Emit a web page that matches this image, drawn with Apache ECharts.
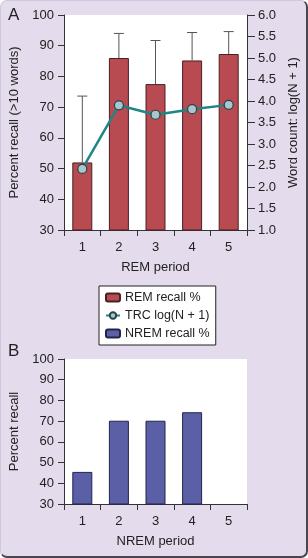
<!DOCTYPE html>
<html><head><meta charset="utf-8">
<script src="https://cdn.jsdelivr.net/npm/echarts@6/dist/echarts.min.js"></script>
<style>
html,body{margin:0;padding:0;background:#fff;}
#frame{position:absolute;left:0;top:0;width:305px;height:555px;background:#e4dcec;border-radius:7px;border-right:2px solid #4a4550;border-bottom:2px solid #4a4550;border-left:1px solid #cfc8d8;border-top:1px solid #cfc8d8;}
#c{position:absolute;left:0;top:0;width:308px;height:558px;}
</style></head>
<body><div id="frame"></div><div id="c"></div>
<script>
const periods = ['1','2','3','4','5'];
const remRecall = [52, 86, 77.5, 85.2, 87.3];
const remErrTop = [73.6, 94, 91.7, 94.3, 94.6];
const trcLog = [2.42, 3.9, 3.68, 3.81, 3.91];
const nremRecall = [45.5, 70.2, 70.2, 74.3, null];
const leftTicks = {min:30, max:100, interval:10};
const rightTicks = {min:1, max:6, interval:0.5};

const font = 'Liberation Sans, Arial, sans-serif';
const txt = '#222';
const chart = echarts.init(document.getElementById('c'), null, {renderer:'canvas'});
const axisLine = {show:true, lineStyle:{color:'#333', width:1}};
const axisTick = {show:true, length:6, lineStyle:{color:'#333'}};
const lbl = {color:txt, fontSize:13, fontFamily:font};

chart.setOption({
  animation:false,
  graphic:[
    {type:'text', left:8, top:7, style:{text:'A', fontSize:17, fontFamily:font, fill:txt}},
    {type:'text', left:8, top:343, style:{text:'B', fontSize:17, fontFamily:font, fill:txt}}
  ],
  legend:{
    data:['REM recall %','TRC log(N + 1)','NREM recall %'],
    orient:'vertical', left:99, top:286,
    backgroundColor:'#fff', borderColor:'#222', borderWidth:1,
    padding:[5,6,5,6], itemGap:5, itemWidth:14, itemHeight:8,
    textStyle:{color:txt, fontSize:12.5, fontFamily:font}
  },
  grid:[
    {left:64, right:61, top:15, height:215, show:true, backgroundColor:'#fff', borderWidth:0},
    {left:64, right:61, top:359, height:145, show:true, backgroundColor:'#fff', borderWidth:0}
  ],
  xAxis:[
    {type:'category', gridIndex:0, data:periods, axisLine, axisTick, axisLabel:Object.assign({margin:11}, lbl),
     name:'REM period', nameLocation:'middle', nameGap:31, nameTextStyle:lbl},
    {type:'category', gridIndex:1, data:periods, axisLine, axisTick, axisLabel:Object.assign({margin:11}, lbl),
     name:'NREM period', nameLocation:'middle', nameGap:31, nameTextStyle:lbl}
  ],
  yAxis:[
    {type:'value', gridIndex:0, position:'left', min:leftTicks.min, max:leftTicks.max, interval:leftTicks.interval,
     axisLine, axisTick, splitLine:{show:false}, axisLabel:Object.assign({margin:10}, lbl),
     name:'Percent recall (>10 words)', nameLocation:'middle', nameGap:40, nameRotate:90, nameTextStyle:lbl},
    {type:'value', gridIndex:0, position:'right', min:rightTicks.min, max:rightTicks.max, interval:rightTicks.interval,
     axisLine, axisTick:{show:true,length:8,lineStyle:{color:'#333'}}, splitLine:{show:false},
     axisLabel:Object.assign({margin:11, formatter:v=>v.toFixed(1)}, lbl),
     name:'Word count: log(N + 1)', nameLocation:'middle', nameGap:39, nameRotate:90, nameTextStyle:lbl},
    {type:'value', gridIndex:1, min:leftTicks.min, max:leftTicks.max, interval:leftTicks.interval,
     axisLine, axisTick, splitLine:{show:false}, axisLabel:Object.assign({margin:10}, lbl),
     name:'Percent recall', nameLocation:'middle', nameGap:40, nameRotate:90, nameTextStyle:lbl}
  ],
  series:[
    {name:'REM recall %', type:'bar', xAxisIndex:0, yAxisIndex:0, data:remRecall, barWidth:20,
     itemStyle:{color:'#b84a52', borderColor:'#4a2025', borderWidth:1}, z:2},
    {name:'errors', type:'custom', xAxisIndex:0, yAxisIndex:0, z:3,
     data:remRecall.map((v,i)=>[i, v, remErrTop[i]]),
     renderItem:(params, api)=>{
       const lo = api.coord([api.value(0), api.value(1)]);
       const hi = api.coord([api.value(0), api.value(2)]);
       const w = 5;
       return {type:'group', children:[
         {type:'line', shape:{x1:lo[0],y1:lo[1],x2:hi[0],y2:hi[1]}, style:{stroke:'#555', lineWidth:1}},
         {type:'line', shape:{x1:hi[0]-w,y1:hi[1],x2:hi[0]+w,y2:hi[1]}, style:{stroke:'#555', lineWidth:1}}
       ]};
     }},
    {name:'TRC log(N + 1)', type:'line', xAxisIndex:0, yAxisIndex:1, data:trcLog, z:5,
     symbol:'circle', symbolSize:9,
     lineStyle:{color:'#1f8585', width:2.5},
     itemStyle:{color:'#a8c6cc', borderColor:'#26454a', borderWidth:1.2}},
    {name:'NREM recall %', type:'bar', xAxisIndex:1, yAxisIndex:2, data:nremRecall, barWidth:20,
     itemStyle:{color:'#5b5fa6', borderColor:'#22244a', borderWidth:1}}
  ]
});
</script></body></html>
